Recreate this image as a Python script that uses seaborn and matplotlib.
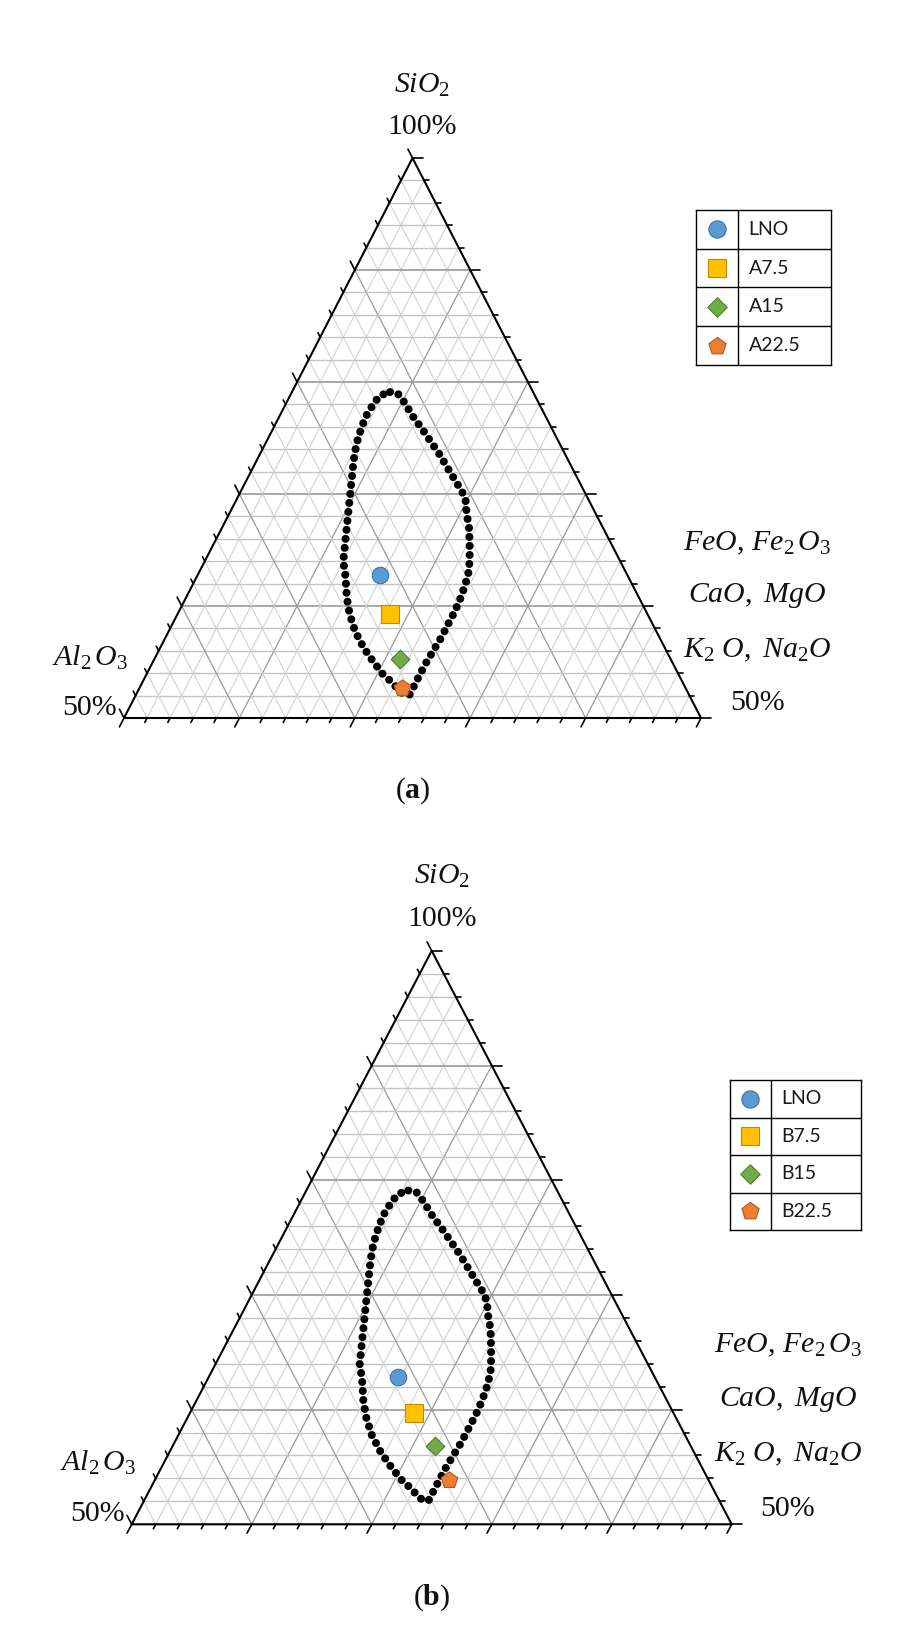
import numpy as np
import matplotlib
matplotlib.use("Agg")
import matplotlib.pyplot as plt
import seaborn as sns

# boundary of the composition region, wt.%
env_sio2 = [79.1, 79.0, 78.1, 76.9, 76.0, 74.8, 73.6, 72.4, 71.2, 70.2, 69.4, 68.2,
            67.0, 65.5, 64.3, 63.2, 62.0, 60.8, 59.6, 58.4, 57.2, 56.0, 54.8, 53.6,
            52.1, 52.0, 52.4, 53.2, 53.9, 55.1, 56.3, 57.8, 59.3, 60.8, 62.6, 64.0,
            65.5, 67.0, 68.5, 70.0, 71.5, 73.0, 74.5, 76.0, 77.0, 78.1, 78.8, 79.1]
env_ro = [8.5, 9.2, 10.3, 11.6, 12.7, 14.1, 15.5, 16.8, 18.1, 19.2, 19.9, 20.6,
          21.4, 22.2, 22.8, 23.3, 23.6, 23.8, 23.9, 23.9, 23.9, 23.8, 23.7, 23.7,
          23.7, 23.4, 22.7, 21.6, 20.5, 19.0, 17.6, 16.1, 14.9, 13.9, 12.9, 12.0,
          11.4, 10.8, 10.2, 9.6, 9.0, 8.4, 7.9, 7.6, 7.5, 7.6, 7.8, 8.5]

# samples: SiO2 and FeO+Fe2O3+CaO+MgO+K2O+Na2O (wt.%)
names_a = ["LNO", "A7.5", "A15", "A22.5"]
sio2_a = [62.8, 59.3, 55.3, 52.7]
ro_a = [15.8, 18.4, 21.3, 22.7]

names_b = ["LNO", "B7.5", "B15", "B22.5"]
sio2_b = [62.8, 59.7, 56.8, 53.9]
ro_b = [15.8, 18.7, 21.9, 24.5]

markers = ["o", "s", "D", "p"]
sizes = [140, 150, 90, 155]
colors = ["#5B9BD5", "#FFC000", "#70AD47", "#ED7D31"]
edges = ["#41719C", "#BC8C00", "#507E32", "#AE5A21"]

sns.set_theme(style="white")
plt.rcParams['font.family'] = ['Liberation Serif', 'DejaVu Serif']
plt.rcParams['mathtext.fontset'] = 'custom'
plt.rcParams['mathtext.it'] = 'Liberation Serif:italic'
plt.rcParams['mathtext.rm'] = 'Liberation Serif'
plt.rcParams['mathtext.bf'] = 'Liberation Serif:bold'

W, H = 917, 1644
fig = plt.figure(figsize=(W / 100, H / 100), dpi=100)
fig.patch.set_facecolor("white")


def tern(sio2, ro):
    # SiO2 50..100 on the vertical, RO 0..50 along the base
    y = (np.asarray(sio2, float) - 50) / 50.
    x = np.asarray(ro, float) / 50. + y / 2
    return x, y


def txt(x, y, s, size=21.5, **kw):
    fig.text(x / W, 1 - y / H, s, ha="center", va="center", fontsize=size,
             color="#111111", **kw)


def panel(box, names, sio2, ro, leg_box, letter):
    l, t, w, h = box
    ax = fig.add_axes([l / W, 1 - (t + h) / H, w / W, h / H])
    ax.set_xlim(0, 1)
    ax.set_ylim(0, 1)
    ax.axis("off")

    # grid: horizontal (SiO2) lines a bit heavier than the slanted ones
    for lev in range(2, 50, 2):
        major = lev % 10 == 0
        xs, ys = tern([50 + lev] * 2, [0, 50 - lev])
        ax.plot(xs, ys, color="#999999" if major else "#c4c4c4",
                lw=1.2 if major else 1.0, zorder=1)
        c = "#9a9a9a" if major else "#d2d2d2"
        lw = 0.9 if major else 0.8
        for xs, ys in (tern([50, 100 - lev], [lev, lev]),      # RO const
                       tern([50, 100 - lev], [50 - lev, 0])):  # Al2O3 const
            ax.plot(xs, ys, color=c, lw=lw, zorder=1)

    # frame
    fx, fy = tern([50, 50, 100, 50], [0, 50, 0, 0])
    ax.plot(fx, fy, color="black", lw=1.5, zorder=3, clip_on=False)

    # ticks (pixel lengths turned into data units)
    def dvec(dx, dy, n):
        d = np.hypot(dx, dy)
        return dx / d * n / w, dy / d * n / h
    for lev in range(0, 52, 2):
        n = 10 if lev % 10 == 0 else 5
        x0, y0 = tern(50, lev)  # base
        dx, dy = dvec(-w / 2, -h, n)
        ax.plot([x0, x0 + dx], [y0, y0 + dy], color="black", lw=1.2, clip_on=False)
        x0, y0 = tern(50 + lev, 50 - lev)  # right side
        dx, dy = dvec(1, 0, n)
        ax.plot([x0, x0 + dx], [y0, y0 + dy], color="black", lw=1.2, clip_on=False)
        x0, y0 = tern(50 + lev, 0)  # left side
        dx, dy = dvec(-w / 2, h, n)
        ax.plot([x0, x0 + dx], [y0, y0 + dy], color="black", lw=1.2, clip_on=False)

    # envelope
    ex, ey = tern(env_sio2, env_ro)
    sns.lineplot(x=ex, y=ey, sort=False, estimator=None, ax=ax, color="black",
                 linewidth=5.8, linestyle=(0, (0.001, 1.12)),
                 dash_capstyle="round", zorder=4)

    # samples
    px, py = tern(sio2, ro)
    for i in range(len(names)):
        sns.scatterplot(x=[px[i]], y=[py[i]], marker=markers[i], s=sizes[i],
                        color=colors[i], edgecolor=edges[i], linewidth=0.8,
                        ax=ax, zorder=5, legend=False)

    # labels
    ax_l, ax_r, ax_b = l, l + w, t + h
    k = h / 560.
    txt(l + w / 2 + 10, t - 73 * k, r"$SiO_2$")
    txt(l + w / 2 + 10, t - 31 * k, "100%")
    txt(ax_r + 56, ax_b - 175 * k, r"$FeO,\, Fe_2\,O_3$")
    txt(ax_r + 56, ax_b - 122 * k, r"$CaO,\ MgO$")
    txt(ax_r + 56, ax_b - 68 * k, r"$K_2\ O,\ Na_2O$")
    txt(ax_r + 56, ax_b - 15 * k, "50%")
    txt(ax_l - 34, ax_b - 60 * k, r"$Al_2\,O_3$")
    txt(ax_l - 34, ax_b - 10 * k, "50%")
    txt(l + w / 2, ax_b + 73, r"($\mathbf{" + letter + "}$)")

    # legend drawn as a small table
    ll, lt, lw_, lh = leg_box
    lax = fig.add_axes([ll / W, 1 - (lt + lh) / H, lw_ / W, lh / H])
    lax.set_xlim(0, 1)
    lax.set_ylim(len(names), 0)
    lax.set_xticks([])
    lax.set_yticks([])
    for sp in lax.spines.values():
        sp.set_visible(True)
        sp.set_color("black")
        sp.set_linewidth(1.0)
    div = 0.31
    lax.axvline(div, color="black", lw=1.0)
    for r in range(1, len(names)):
        lax.axhline(r, color="black", lw=1.0)
    for i, nm in enumerate(names):
        sns.scatterplot(x=[div / 2], y=[i + 0.5], marker=markers[i],
                        s=sizes[i] * 1.1, color=colors[i], edgecolor=edges[i],
                        linewidth=0.8, ax=lax, legend=False, clip_on=False)
        lax.text(div + 0.08, i + 0.5, nm, va="center", ha="left",
                 fontsize=14, family=["Lato", "DejaVu Sans"], color="#1a1a1a")
    lax.set_xlabel("")
    lax.set_ylabel("")


panel((124, 158, 577, 560), names_a, sio2_a, ro_a, (696, 210, 135, 155), "a")
panel((131.7, 950.8, 600, 573.5), names_b, sio2_b, ro_b, (730, 1080, 131, 150), "b")

fig.savefig("out.png", dpi=100, facecolor="white")
